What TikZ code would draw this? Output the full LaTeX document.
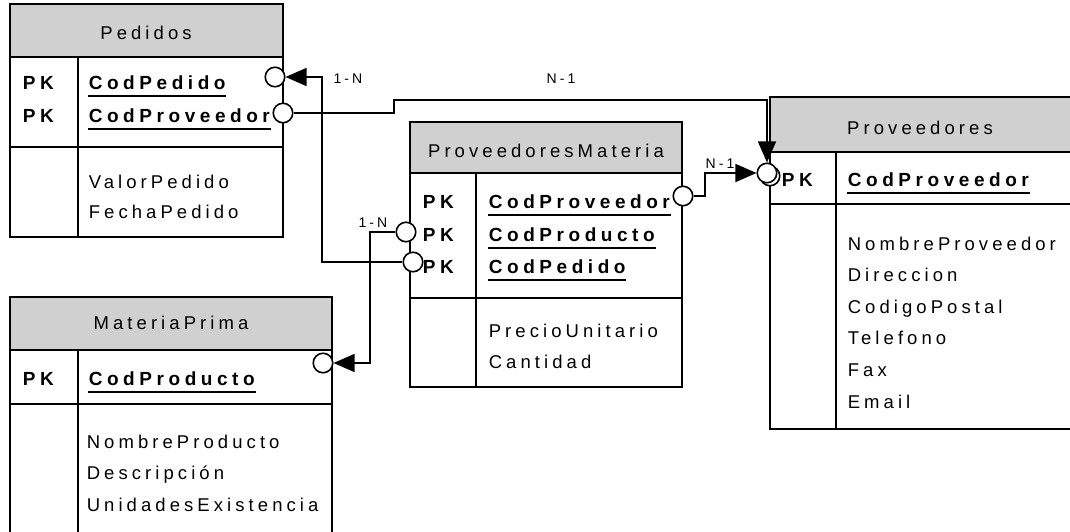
\documentclass[tikz,border=0pt]{standalone}
\usepackage{fontspec}
\usepackage{tikz}
\usetikzlibrary{arrows.meta}
\newfontfamily\erfont[LetterSpace=22,BoldFeatures={LetterSpace=24}]{Liberation Sans}
\definecolor{headgray}{HTML}{D0D0D0}

\tikzset{
  tblhead/.style={font=\erfont\fontsize{18.5}{20}\selectfont, inner sep=0pt, anchor=base},
  attr/.style={font=\erfont\fontsize{18.5}{20}\selectfont, inner sep=0pt, anchor=base west},
  pkey/.style={font=\erfont\bfseries\fontsize{19}{20}\selectfont, inner sep=0pt, anchor=base west},
  card/.style={font=\erfont\fontsize{14}{16}\selectfont, inner sep=0pt, anchor=base},
  fkdot/.style={circle, draw, fill=white, minimum size=19.5pt, inner sep=0pt},
  rel/.style={-{Triangle[length=21pt,width=18pt]}}
}

\begin{document}
\begin{tikzpicture}[x=1pt,y=-1pt,line width=1.6pt]
  \useasboundingbox (0,0) rectangle (1070,531);
  \foreach \xa/\xb/\ya/\yb/\yc/\yd/\xd in {10/283/4/57/147/237/78, 410/682/122/173/298/387/476, 770/1080/97/152/204/429/836, 10/332/297/350/404/545/78} {
    \filldraw[fill=headgray] (\xa,\ya) rectangle (\xb,\yb);
    \draw (\xa,\yb) rectangle (\xb,\yd);
    \draw (\xa,\yc) -- (\xb,\yc);
    \draw (\xd,\yb) -- (\xd,\yd);
  }
  \node[tblhead] (peHead) at (146,39) {Pedidos};
  \node[tblhead] (pmHead) at (546,157) {ProveedoresMateria};
  \node[tblhead] (prHead) at (920,134) {Proveedores};
  \node[tblhead] (mpHead) at (171,329) {MateriaPrima};
  \foreach \n/\x/\y/\k in {peKey1/88/89/CodPedido, peKey2/88/122/CodProveedor, pmKey1/488/208/CodProveedor, pmKey2/488/241/CodProducto, pmKey3/488/273/CodPedido, prKey1/847/186/CodProveedor, mpKey1/88/385/CodProducto} {
    \node[pkey] (pk-\n) at ({\x-66},\y) {PK};
    \node[pkey] (\n) at (\x,\y) {\k};
    \draw ([yshift=-7pt]\n.base west) -- ([yshift=-7pt]\n.base east);
  }
  \foreach \t [count=\i] in {ValorPedido,FechaPedido}
    \node[attr] (peAttr\i) at (88,{188+30*(\i-1)}) {\t};
  \foreach \t [count=\i] in {PrecioUnitario,Cantidad}
    \node[attr] (pmAttr\i) at (488,{337+31*(\i-1)}) {\t};
  \foreach \t [count=\i] in {NombreProveedor,Direccion,CodigoPostal,Telefono,Fax,Email}
    \node[attr] (prAttr\i) at (847,{250+31.6*(\i-1)}) {\t};
  \foreach \t [count=\i] in {NombreProducto,Descripción,UnidadesExistencia}
    \node[attr] (mpAttr\i) at (86,{448+31.5*(\i-1)}) {\t};

  \node[fkdot] (dPePed) at (275,77) {};
  \node[fkdot] (dPeProv) at (283,113) {};
  \node[fkdot] (dPmProv) at (683,196) {};
  \node[fkdot] (dPmProd) at (406,232) {};
  \node[fkdot] (dPmPed) at (413,262) {};
  \node[fkdot] (dMpProd) at (323,363) {};
  \node[fkdot] (dPrBack) at (770,176) {};
  \node[fkdot] (dPrProv) at (767,173) {};

  \draw[rel] (dPmPed) -- (322,262) |- (dPePed);
  \draw[rel] (dPeProv) -- (394,113) -- (394,100) -| (dPrProv);
  \draw[rel] (dPmProv) -- (705,196) |- (dPrProv);
  \draw[rel] (dPmProd) -- (370,232) |- (dMpProd);

  \node[card] (cPed) at (348,83) {1-N};
  \node[card] (cProvTop) at (561,83) {N-1};
  \node[card] (cProvPm) at (720,168) {N-1};
  \node[card] (cProd) at (373,227) {1-N};
\end{tikzpicture}
\end{document}
